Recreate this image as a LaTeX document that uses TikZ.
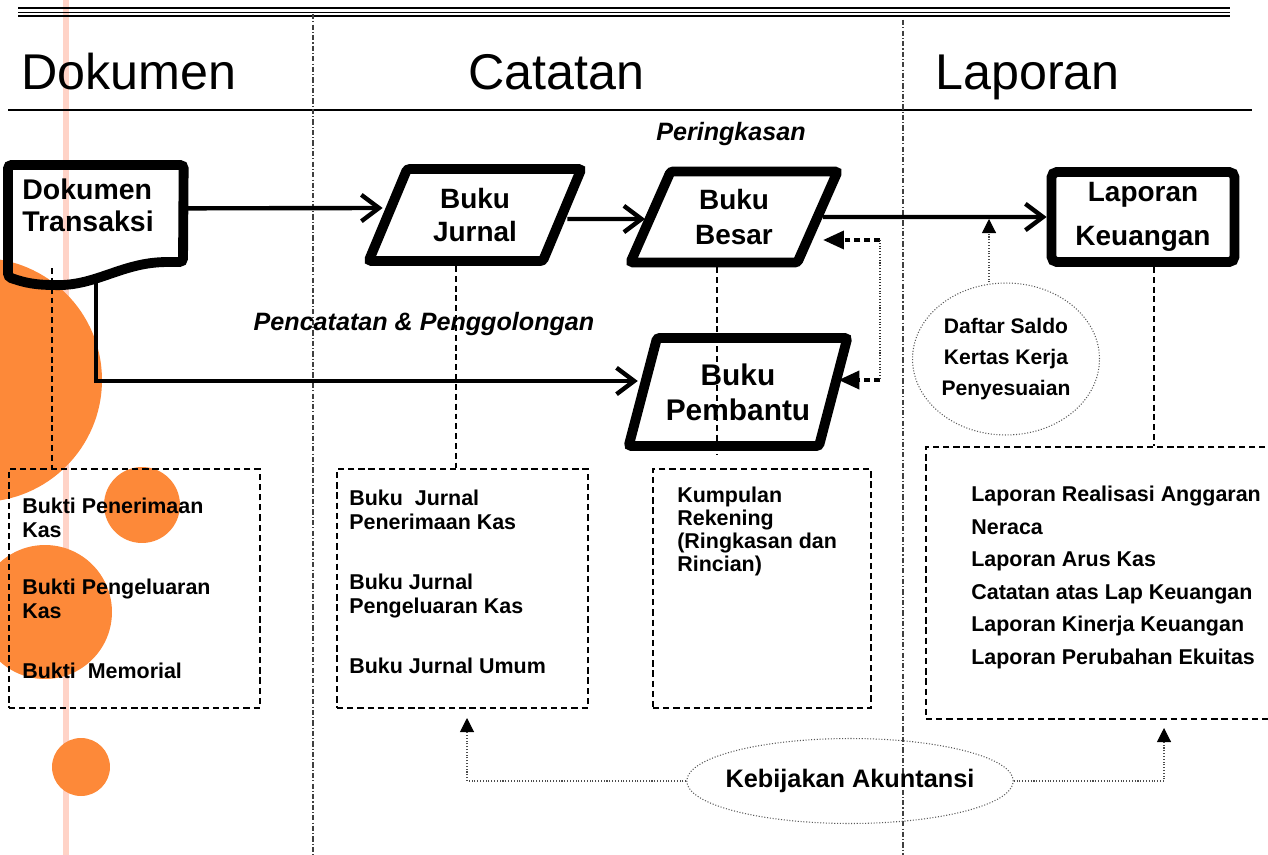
\documentclass[tikz,border=0pt]{standalone}
\usepackage{fontspec}
\setmainfont{Liberation Sans}
\usetikzlibrary{shapes.geometric,arrows.meta,positioning}

\definecolor{orng}{RGB}{253,137,57}
\definecolor{pinkln}{RGB}{255,211,199}

\begin{document}
\begin{tikzpicture}[x=0.02cm,y=-0.02cm,
  heading/.style={inner sep=0pt,anchor=base west,font=\fontsize{28.6}{32}\selectfont},
  book/.style={trapezium,trapezium stretches=true,trapezium left angle=66,
    trapezium right angle=114,draw,line width=5.6pt,rounded corners=1.5pt,
    inner sep=0pt,align=center,font=\fontsize{15.9}{18.7}\selectfont\bfseries},
  report/.style={draw,line width=5.6pt,rounded corners=3pt,inner sep=0pt,
    align=center,font=\fontsize{15.9}{25}\selectfont\bfseries},
  remark/.style={inner sep=0pt,anchor=base,font=\fontsize{14.3}{16}\selectfont\bfseries\itshape},
  listbox/.style={draw,line width=1.1pt,dash pattern=on 3.6pt off 2.2pt,anchor=north west,
    minimum height=4.78cm},
  listtext/.style={inner sep=0pt,anchor=north west,align=left,
    font=\fontsize{12.2}{13.7}\selectfont\bfseries},
  bubble/.style={ellipse,draw=black!65,densely dotted,line width=0.6pt,inner sep=0pt,
    align=center},
  flow/.style={line width=2.5pt,-{Straight Barb[length=10pt,width=15pt]}},
  feed/.style={line width=2.7pt,dash pattern=on 3.4pt off 2.2pt,-{Triangle[length=12pt,width=10pt]}},
  note/.style={draw=black!70,line width=0.6pt,densely dotted,
    -{Triangle[length=8pt,width=8pt,color=black]}},
  link/.style={line width=0.8pt,dash pattern=on 3.4pt off 2.2pt},
  colline/.style={draw=black!75,line width=0.6pt,dash pattern=on 3pt off 1.2pt on 0.6pt off 1.2pt}]

  \useasboundingbox (0,0) rectangle (1268,855);

  % background
  \fill[pinkln] (63,0) rectangle (69,855);
  \fill[orng] (-20,380) circle[radius=2.44cm];
  \fill[orng] (142,505) circle[radius=0.76cm];
  \fill[orng] (45,612) circle[radius=1.34cm];
  \fill[orng] (81,767) circle[radius=0.58cm];

  % rules and columns
  \draw[line width=1.4pt] (18,8) -- (1230,8);
  \draw[line width=0.8pt] (18,12.5) -- (1230,12.5);
  \draw[line width=1.1pt] (18,16) -- (1230,16);
  \draw[line width=0.7pt] (8,110) -- (1252,110);
  \draw[colline] (313,14) -- (313,855);
  \draw[colline] (903,20) -- (903,855);

  \node[heading] (hdok) at (21,90) {Dokumen};
  \node[heading] (hcat) at (468,90) {Catatan};
  \node[heading] (hlap) at (935,90) {Laporan};

  % dokumen transaksi
  \node[inner sep=0pt,minimum width=3.5cm,minimum height=2.2cm,anchor=north west] (doc) at (8,165) {};
  \draw[line width=5.6pt,rounded corners=2pt] (8,250) -- (doc.north west) -- (doc.north east)
    -- (183,262) -- (165,262) .. controls (120,264) and (95,286) .. (52,285)
    .. controls (30,284.5) and (20,281) .. (8,277) -- cycle;
  \node[inner sep=0pt,anchor=north west,align=left,font=\fontsize{16.2}{18.1}\selectfont\bfseries]
    (doclbl) at (22,179) {Dokumen\\Transaksi};

  \node[book,minimum width=4.28cm,minimum height=1.84cm] (jurnal) at (475,215) {Buku\\Jurnal};
  \node[book,minimum width=4.16cm,minimum height=1.82cm,font=\fontsize{15.9}{19.8}\selectfont\bfseries]
    (besar) at (734,217) {Buku\\Besar};
  \node[book,minimum width=4.38cm,minimum height=2.16cm,font=\fontsize{17}{19.8}\selectfont\bfseries]
    (pembantu) at (738,392) {Buku\\Pembantu};
  \node[report,minimum width=3.66cm,minimum height=1.8cm] (lapkeu) at (1143,217) {Laporan\\Keuangan};

  \node[remark] (ringkas) at (731,140) {Peringkasan};
  \node[remark] (catat) at (424,330) {Pencatatan \& Penggolongan};

  \node[bubble,minimum width=3.74cm,minimum height=3.04cm,font=\fontsize{12}{17.6}\selectfont\bfseries]
    (saldo) at (1006,359) {Daftar Saldo\\Kertas Kerja\\Penyesuaian};
  \node[bubble,inner xsep=-0.18cm,minimum height=1.7cm,font=\fontsize{14.4}{17}\selectfont\bfseries]
    (kebijakan) at (850,781) {Kebijakan Akuntansi};

  % dashed lists
  \node[listbox,minimum width=5.02cm] (bukti) at (8,468) {};
  \node[listbox,minimum width=5.02cm] (jbox) at (336,468) {};
  \node[listbox,minimum width=4.36cm] (rbox) at (652,468) {};
  \node[listbox,minimum width=7.4cm,minimum height=5.44cm] (lbox) at (925,446) {};

  \node[listtext] (bukti-t) at ([shift={(14,30)}]bukti.north west)
    {Bukti Penerimaan\\Kas\\[0.64cm]Bukti Pengeluaran\\Kas\\[0.72cm]Bukti~ Memorial};
  \node[listtext] (jbox-t) at ([shift={(13,22)}]jbox.north west)
    {Buku~ Jurnal\\Penerimaan Kas\\[0.7cm]Buku Jurnal\\Pengeluaran Kas\\[0.72cm]Buku Jurnal Umum};
  \node[listtext,font=\fontsize{12.2}{13}\selectfont\bfseries] (rbox-t) at ([shift={(25,19)}]rbox.north west)
    {Kumpulan\\Rekening\\(Ringkasan dan\\Rincian)};
  \node[listtext,font=\fontsize{12.2}{18.5}\selectfont\bfseries] (lbox-t) at ([shift={(46,40)}]lbox.north west)
    {Laporan Realisasi Anggaran\\Neraca\\Laporan Arus Kas\\Catatan atas Lap Keuangan\\Laporan Kinerja Keuangan\\Laporan Perubahan Ekuitas};

  % connectors
  \coordinate (d1) at (96,280);
  \coordinate (d2) at (52,268);
  \draw[flow] ([yshift=0.24cm]doc.east) -- ([yshift=0.14cm]jurnal.west);
  \draw[flow] ([yshift=-0.08cm]jurnal.east) -- ([yshift=-0.04cm]besar.west);
  \draw[flow] (besar) -- (lapkeu);
  \draw[flow] (d1) |- ([yshift=0.22cm]pembantu.west);

  \coordinate (k1) at (880,240);
  \coordinate (k2) at (880,380);
  \draw[feed] (k1) -- (k1 -| besar.east);
  \draw[feed] (k2) -- (k2 -| pembantu.east);
  \draw[black!80,line width=0.6pt,densely dotted] (k1) -- (k2);

  \coordinate (s1) at (989,219);
  \draw[note] (s1 |- saldo.north) -- (s1);

  \coordinate (p1) at (467,718);
  \coordinate (p2) at (1164,728);
  \draw[note] (kebijakan.west) -| (p1);
  \draw[note] (kebijakan.east) -| (p2);

  \draw[link] (d2) -- (d2 |- bukti.north);
  \draw[link] ([xshift=-0.38cm]jurnal.south) -- ([xshift=-0.38cm]jurnal.south |- jbox.north);
  \draw[link] ([xshift=-0.34cm]besar.south) -- ++(0,187);
  \draw[link] ([xshift=0.22cm]lapkeu.south) -- ([xshift=0.22cm]lapkeu.south |- lbox.north);
\end{tikzpicture}
\end{document}
